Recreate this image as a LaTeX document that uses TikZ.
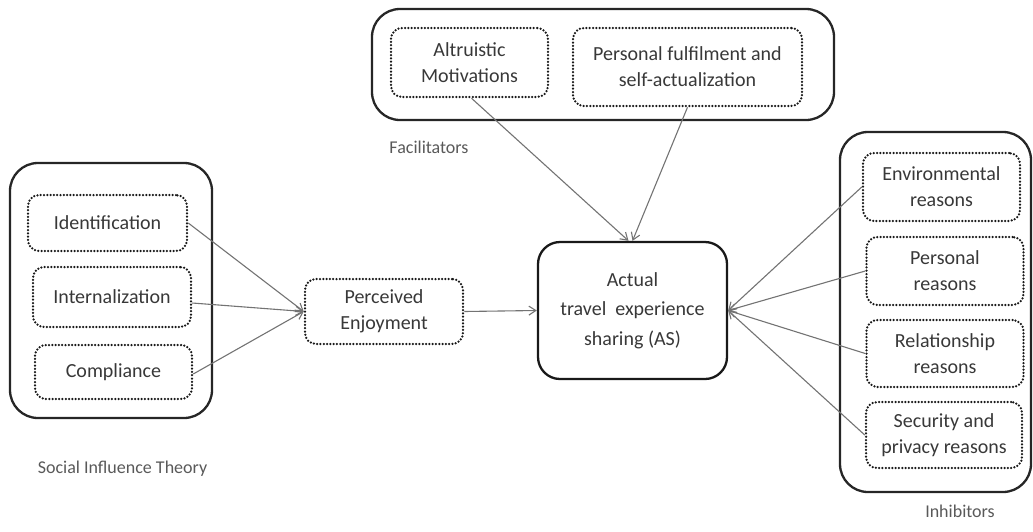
\documentclass[tikz,border=0pt]{standalone}
\usepackage{fontspec}
\setmainfont{Carlito}
\usetikzlibrary{arrows.meta}
\begin{document}
\begin{tikzpicture}[x=1pt,y=-1pt,
  outerbox/.style={draw=black!85,line width=2.3pt,rounded corners=28pt,inner sep=0pt},
  innerbox/.style={draw=black!90,line width=2.5pt,line cap=round,dash pattern=on 0pt off 3.3pt,
    rounded corners=11pt,align=center,font=\fontsize{20}{26}\selectfont,text=black!78,inner sep=0pt},
  mainbox/.style={draw=black!90,line width=2.3pt,rounded corners=22pt,align=center,
    font=\fontsize{20}{29.5}\selectfont,text=black!78,inner sep=0pt},
  grouplabel/.style={font=\fontsize{18}{22}\selectfont,text=black!65},
  link/.style={draw=black!55,line width=1.1pt,-{Straight Barb[length=7pt,width=9pt]}}]
\useasboundingbox (0,0) rectangle (1033,531);

% group frames
\node[outerbox,minimum width=202pt,minimum height=255pt] (soc) at (111,290.5) {};
\node[outerbox,minimum width=462pt,minimum height=111pt] (fac) at (603,64.5) {};
\node[outerbox,minimum width=191pt,minimum height=360pt] (inh) at (935.5,312) {};

% social influence factors
\node[innerbox,minimum width=159pt,minimum height=56pt] (ident) at (107.5,223) {Identification};
\node[innerbox,minimum width=158pt,minimum height=60pt] (intern) at (112,297) {Internalization};
\node[innerbox,minimum width=157pt,minimum height=54pt] (compl) at (113.5,372) {Compliance};

% mediator and outcome
\node[innerbox,minimum width=158pt,minimum height=65pt] (pe) at (384,311.5) {Perceived\\Enjoyment};
\node[mainbox,minimum width=189pt,minimum height=137pt] (as) at (632.5,310.5) {Actual\\travel\ \ experience\\sharing (AS)};

% facilitators
\node[innerbox,minimum width=157pt,minimum height=69pt] (altr) at (469.5,62.5) {Altruistic\\Motivations};
\node[innerbox,minimum width=229pt,minimum height=78pt] (pers) at (687.5,67) {Personal fulfilment and\\self-actualization};

% inhibitors
\node[innerbox,minimum width=157pt,minimum height=68pt] (env) at (941.5,187) {Environmental\\reasons};
\node[innerbox,minimum width=157pt,minimum height=68pt] (persr) at (945,271) {Personal\\reasons};
\node[innerbox,minimum width=157pt,minimum height=67pt] (rel) at (945,353.5) {Relationship\\reasons};
\node[innerbox,minimum width=156pt,minimum height=66pt] (sec) at (944,435) {Security and\\privacy reasons};

% group captions
\node[grouplabel] (faclab) at (429,147) {Facilitators};
\node[grouplabel] (soclab) at (122.5,469) {Social Influence Theory};
\node[grouplabel] (inhlab) at (960,511) {Inhibitors};

% connectors
\draw[link] (ident.east) -- (pe.west);
\draw[link] ([yshift=-6pt]intern.east) -- (pe.west);
\draw[link] ([yshift=-2pt]compl.east) -- (pe.west);
\draw[link] (pe.east) -- (as.west);
\draw[link] ([xshift=2pt]altr.south) -- ([xshift=-4pt]as.north);
\draw[link] (pers.south) -- ([xshift=0pt]as.north);
\draw[link] (env.west) -- (as.east);
\draw[link] (persr.west) -- (as.east);
\draw[link] (rel.west) -- (as.east);
\draw[link] (sec.west) -- (as.east);
\end{tikzpicture}
\end{document}
